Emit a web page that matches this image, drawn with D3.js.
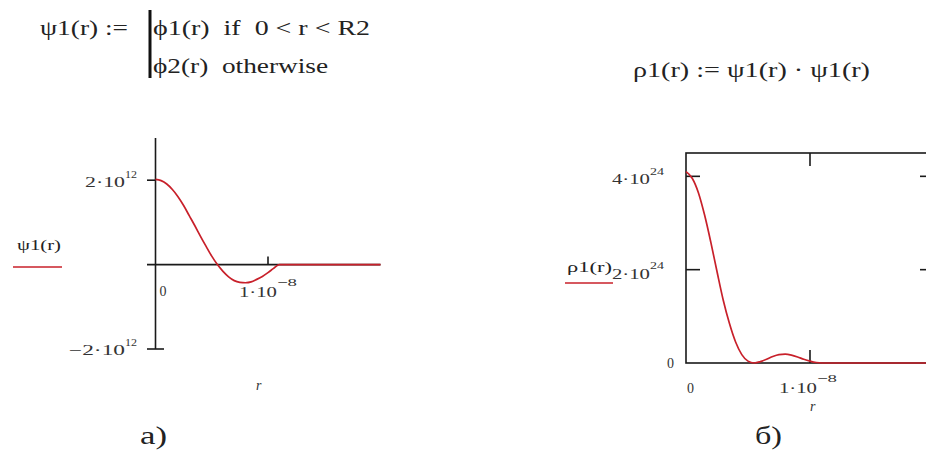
<!DOCTYPE html>
<html>
<head>
<meta charset="utf-8">
<script src="https://cdn.jsdelivr.net/npm/d3@7"></script>
<style>
  body { margin: 0; background: #fff; }
  svg { display: block; }
  .math { font-family: "Liberation Serif", "Times New Roman", serif; fill: #222; white-space: pre; }
  .tick-label { font-family: "Liberation Serif", "Times New Roman", serif; font-size: 14px; fill: #333; }
  .axis { stroke: #1a1a1a; stroke-width: 1.6; fill: none; }
  .curve { stroke: #c8202a; stroke-width: 1.7; fill: none; }
</style>
</head>
<body>
<svg id="fig" width="926" height="451"></svg>
<script>
// r in units of 1e-8
const rValues = [0, 0.05, 0.1, 0.15, 0.2, 0.25, 0.3, 0.35, 0.4, 0.45, 0.5, 0.55,
  0.6, 0.65, 0.7, 0.75, 0.8, 0.85, 0.9, 0.95, 1.0, 1.05, 1.1, 1.2, 1.4, 1.6, 1.8, 2.0];
// psi1(r) in units of 1e12
const psiValues = [2.02, 1.99, 1.91, 1.78, 1.61, 1.40, 1.16, 0.92, 0.67, 0.43, 0.20, 0.0,
  -0.16, -0.29, -0.38, -0.42, -0.43, -0.41, -0.35, -0.28, -0.19, -0.09, 0.0, 0.0, 0.0, 0.0, 0.0, 0.0];
// rho1(r) in units of 1e24
const rhoValues = [4.10, 3.96, 3.65, 3.17, 2.59, 1.96, 1.35, 0.85, 0.45, 0.18, 0.04, 0.0,
  0.03, 0.08, 0.14, 0.18, 0.19, 0.17, 0.13, 0.08, 0.04, 0.01, 0.0, 0.0, 0.0, 0.0, 0.0, 0.0];

const psiYTicks = [2, -2];          // 1e12
const rhoYTicks = [0, 2, 4];        // 1e24
const rXTicks = [0, 1];             // 1e-8

const svg = d3.select("#fig");

// mantissa·10 with superscript exponent
function sciLabel(g, x, y, main, exp, mainW, expW, supDy) {
  const t = g.append("text").attr("class", "tick-label").attr("x", x).attr("y", y);
  t.append("tspan").text(main).attr("textLength", mainW).attr("lengthAdjust", "spacingAndGlyphs");
  t.append("tspan").text(exp).attr("dy", supDy).attr("font-size", 11)
    .attr("textLength", expW).attr("lengthAdjust", "spacingAndGlyphs");
}

// ---------- formulas ----------
const f = svg.append("g");
f.append("text").attr("class", "math").attr("x", 40).attr("y", 35).attr("font-size", 22)
  .attr("textLength", 88).attr("lengthAdjust", "spacingAndGlyphs").text("ψ1(r)\u00a0:=");
f.append("line").attr("x1", 150).attr("x2", 150).attr("y1", 10).attr("y2", 78)
  .attr("stroke", "#111").attr("stroke-width", 3);
f.append("text").attr("class", "math").attr("x", 153).attr("y", 35).attr("font-size", 22)
  .attr("textLength", 217).attr("lengthAdjust", "spacingAndGlyphs")
  .text("ϕ1(r)\u00a0\u00a0if\u00a0\u00a00\u00a0<\u00a0r\u00a0<\u00a0R2");
f.append("text").attr("class", "math").attr("x", 153).attr("y", 73).attr("font-size", 22)
  .attr("textLength", 175).attr("lengthAdjust", "spacingAndGlyphs")
  .text("ϕ2(r)\u00a0\u00a0otherwise");
f.append("text").attr("class", "math").attr("x", 633).attr("y", 77).attr("font-size", 20)
  .attr("textLength", 237).attr("lengthAdjust", "spacingAndGlyphs")
  .text("ρ1(r)\u00a0:=\u00a0ψ1(r)\u00a0·\u00a0ψ1(r)");

// ---------- left plot: psi1 ----------
const xL = d3.scaleLinear().domain([0, 1]).range([155.5, 268]);
const yL = d3.scaleLinear().domain([-2, 3]).range([349, 138]);
const gL = svg.append("g");

// crossed axes
gL.append("line").attr("class", "axis").attr("x1", xL(0)).attr("x2", xL(0)).attr("y1", yL(3)).attr("y2", yL(-2));
gL.append("line").attr("class", "axis").attr("x1", 147).attr("x2", xL(2)).attr("y1", yL(0)).attr("y2", yL(0));
psiYTicks.forEach(v => {
  gL.append("line").attr("class", "axis").attr("x1", 147).attr("x2", v < 0 ? 164 : xL(0))
    .attr("y1", yL(v)).attr("y2", yL(v));
});
gL.append("line").attr("class", "axis").attr("x1", xL(1)).attr("x2", xL(1)).attr("y1", yL(0) - 8).attr("y2", yL(0));

const lineL = d3.line().x((d, i) => xL(rValues[i])).y(d => yL(d)).curve(d3.curveMonotoneX);
gL.append("path").attr("class", "curve").attr("d", lineL(psiValues));

sciLabel(gL, 85, 187, "2·10", "12", 40, 12, -9);
sciLabel(gL, 69, 355, "−2·10", "12", 56, 12, -9);
gL.append("text").attr("class", "tick-label").attr("x", xL(rXTicks[0]) + 4).attr("y", 296).text("0");
sciLabel(gL, 239, 297, "1·10", "−8", 38, 20, -11);
gL.append("text").attr("class", "tick-label").attr("x", 256).attr("y", 390).attr("font-style", "italic").text("r");
gL.append("text").attr("class", "math").attr("x", 17).attr("y", 250).attr("font-size", 15)
  .attr("textLength", 44).attr("lengthAdjust", "spacingAndGlyphs").text("ψ1(r)");
gL.append("line").attr("x1", 13).attr("x2", 62).attr("y1", 267).attr("y2", 267)
  .attr("stroke", "#c8202a").attr("stroke-width", 1.5);

// ---------- right plot: rho1 ----------
const xR = d3.scaleLinear().domain([0, 2]).range([686, 934]);
const yR = d3.scaleLinear().domain([0, 4.5]).range([363, 153]);
const gR = svg.append("g");

gR.append("rect").attr("class", "axis").attr("x", xR(0)).attr("y", yR(4.5))
  .attr("width", xR(2) - xR(0)).attr("height", yR(0) - yR(4.5));
rhoYTicks.filter(v => v > 0).forEach(v => {
  gR.append("line").attr("class", "axis").attr("x1", xR(0)).attr("x2", xR(0) + 14).attr("y1", yR(v)).attr("y2", yR(v));
  gR.append("line").attr("class", "axis").attr("x1", xR(2) - 14).attr("x2", xR(2)).attr("y1", yR(v)).attr("y2", yR(v));
});
gR.append("line").attr("class", "axis").attr("x1", xR(1)).attr("x2", xR(1)).attr("y1", yR(4.5)).attr("y2", yR(4.5) + 13);
gR.append("line").attr("class", "axis").attr("x1", xR(1)).attr("x2", xR(1)).attr("y1", yR(0)).attr("y2", yR(0) - 13);

const lineR = d3.line().x((d, i) => xR(rValues[i])).y(d => yR(d)).curve(d3.curveMonotoneX);
gR.append("path").attr("class", "curve").attr("d", lineR(rhoValues));

sciLabel(gR, 612, 184, "4·10", "24", 38, 14, -9);
sciLabel(gR, 612, 279, "2·10", "24", 38, 14, -10);
gR.append("text").attr("class", "tick-label").attr("x", 667).attr("y", 368).text("0");
gR.append("text").attr("class", "tick-label").attr("x", xR(rXTicks[0]) + 1).attr("y", 393).text("0");
sciLabel(gR, 779, 393, "1·10", "−8", 38, 20, -11);
gR.append("text").attr("class", "tick-label").attr("x", 810).attr("y", 411).attr("font-style", "italic").text("r");
gR.append("text").attr("class", "math").attr("x", 567).attr("y", 272).attr("font-size", 15)
  .attr("textLength", 45).attr("lengthAdjust", "spacingAndGlyphs").text("ρ1(r)");
gR.append("line").attr("x1", 565).attr("x2", 613).attr("y1", 283).attr("y2", 283)
  .attr("stroke", "#c8202a").attr("stroke-width", 1.5);

// ---------- captions ----------
svg.append("text").attr("class", "math").attr("x", 140).attr("y", 444).attr("font-size", 26)
  .attr("textLength", 27).attr("lengthAdjust", "spacingAndGlyphs").text("а)");
svg.append("text").attr("class", "math").attr("x", 755).attr("y", 444).attr("font-size", 26)
  .attr("textLength", 27).attr("lengthAdjust", "spacingAndGlyphs").text("б)");
</script>
</body>
</html>
